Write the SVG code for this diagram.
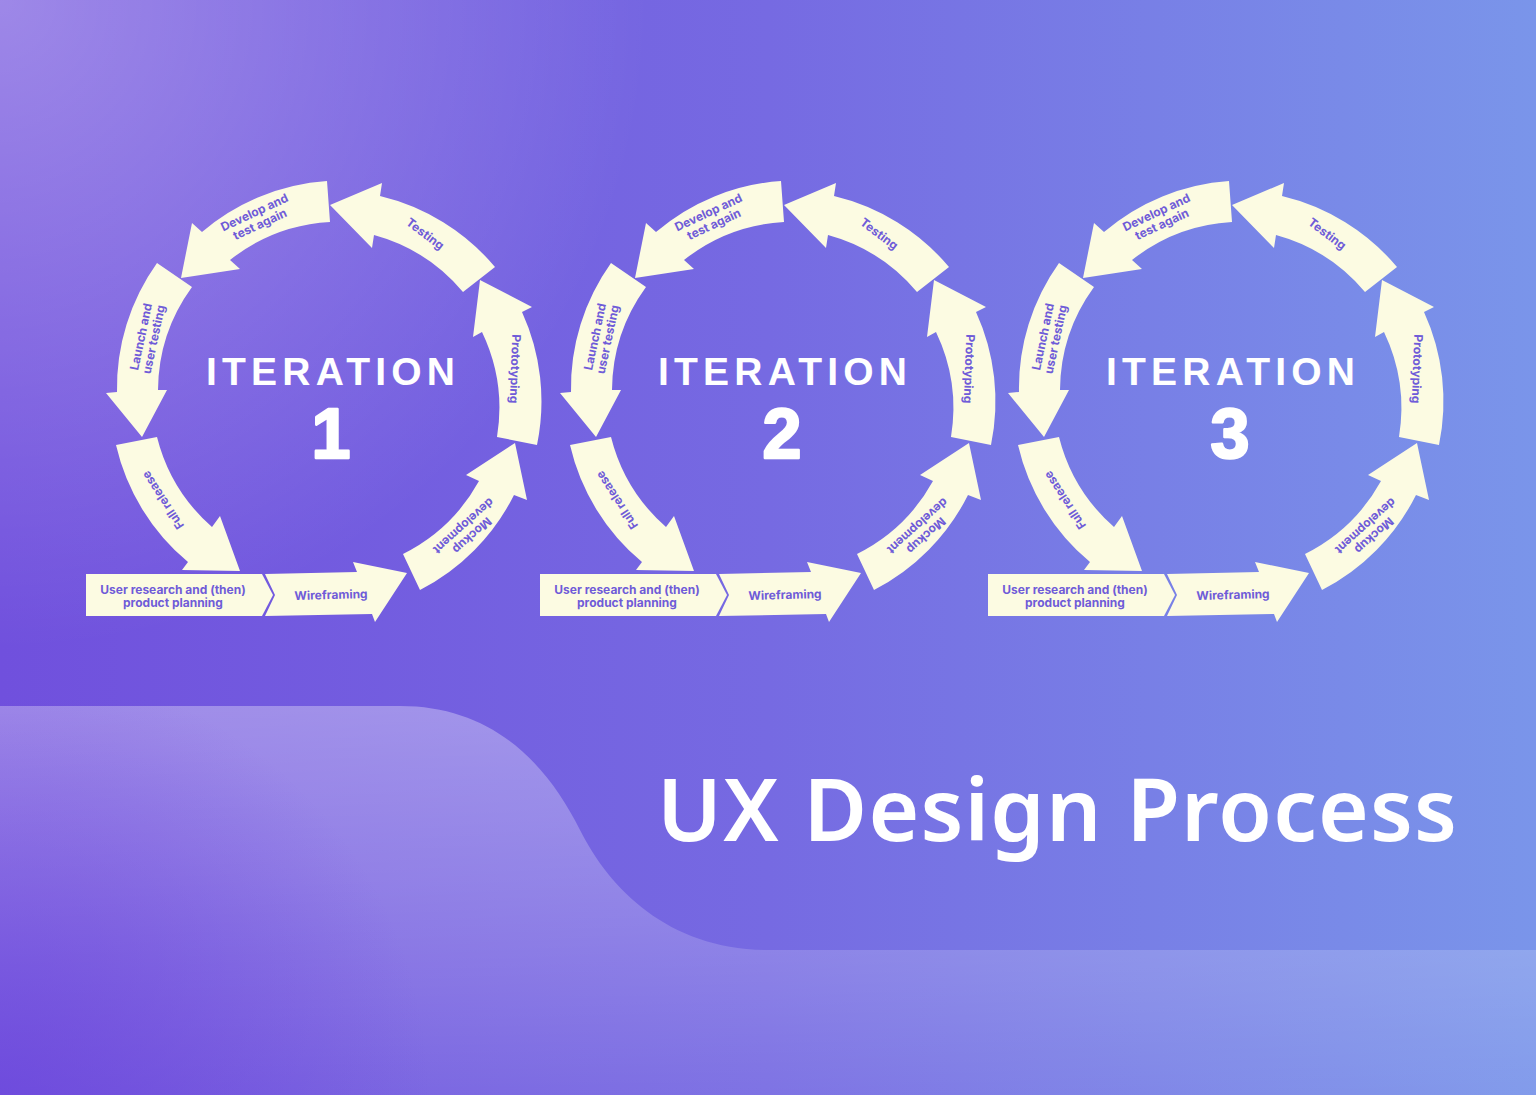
<svg xmlns="http://www.w3.org/2000/svg" xmlns:xlink="http://www.w3.org/1999/xlink" width="1536" height="1095" viewBox="0 0 1536 1095">
<style>
.arw{fill:#fcfbe2}
.lbl{font-family:Inter,"Noto Sans",sans-serif;font-weight:700;font-size:12px;fill:#6f5bd8;text-anchor:middle}
.itr{font-family:"Liberation Sans",Arial,sans-serif;font-weight:700;font-size:39px;fill:#ffffff;text-anchor:middle}
.num{font-family:"Liberation Sans",Arial,sans-serif;font-weight:700;font-size:70px;fill:#ffffff;stroke:#ffffff;stroke-width:2.5;stroke-linejoin:round;text-anchor:middle}
.ttl{font-family:"Noto Sans",Inter,sans-serif;font-weight:600;font-size:87px;fill:#ffffff}
</style>
<defs>
<linearGradient id="bg" x1="0" y1="0" x2="1" y2="0">
<stop offset="0" stop-color="#7050dd"/>
<stop offset="0.5" stop-color="#766ae2"/>
<stop offset="1" stop-color="#7a95ea"/>
</linearGradient>
<radialGradient id="glow" cx="0" cy="0" r="650" gradientUnits="userSpaceOnUse">
<stop offset="0" stop-color="#ffffff" stop-opacity="0.32"/>
<stop offset="1" stop-color="#ffffff" stop-opacity="0"/>
</radialGradient>
<linearGradient id="wave" x1="0" y1="706" x2="0" y2="1095" gradientUnits="userSpaceOnUse">
<stop offset="0" stop-color="#ffffff" stop-opacity="0.33"/>
<stop offset="0.45" stop-color="#ffffff" stop-opacity="0.22"/>
<stop offset="1" stop-color="#ffffff" stop-opacity="0.06"/>
</linearGradient>
<radialGradient id="dark" cx="0" cy="1095" r="430" gradientUnits="userSpaceOnUse">
<stop offset="0" stop-color="#6a45dc" stop-opacity="0.7"/>
<stop offset="1" stop-color="#6a45dc" stop-opacity="0"/>
</radialGradient>
<path id="a-research" d="M86,574 L262,574 L273,595 L262,616 L86,616 Z"/>
<path id="a-wire" d="M265,574 L357,572 L353,562 L407,573 L375,622 L372,614 L265,616 L275,595 Z"/>
<path id="a-mockup" d="M420,590 A215,215 0 0 0 514,495 L527,500 L515,443 L466,475 L479,481 A177,177 0 0 1 403,554 Z"/>
<path id="a-proto" d="M537,445 A215,215 0 0 0 522,312 L532,307 L480,280 L473,337 L482,332 A177,177 0 0 1 497,437 Z"/>
<path id="a-testing" d="M495,267 A215,215 0 0 0 380,196 L382,183 L330,205 L372,248 L374,235 A177,177 0 0 1 463,292 Z"/>
<path id="a-develop" d="M327,181 A215,215 0 0 0 202,232 L192,223 L181,278 L240,269 L230,260 A177,177 0 0 1 330,222 Z"/>
<path id="a-launch" d="M157,263 A215,215 0 0 0 117,392 L106,393 L142,437 L167,390 L158,390 A177,177 0 0 1 192,287 Z"/>
<path id="a-full" d="M116,445 A215,215 0 0 0 188,562 L182,570 L240,571 L220,516 L212,527 A177,177 0 0 1 157,437 Z"/>
</defs>

<g id="background">
<rect x="0" y="0" width="1536" height="1095" fill="url(#bg)"/>
<rect x="0" y="0" width="1536" height="1095" fill="url(#glow)"/>
<path d="M0,706 H400 C490,706 545,760 580,830 C610,890 670,950 768,950 H1536 V1095 H0 Z" fill="url(#wave)"/>
<rect x="0" y="700" width="700" height="395" fill="url(#dark)"/>
</g>

<g id="connectors"></g>

<g id="iteration1">
<g id="it1-research"><use xlink:href="#a-research" class="arw"/><text class="lbl" x="173" y="594">User research and (then)</text><text class="lbl" x="173" y="607">product planning</text></g>
<g id="it1-wireframing"><use xlink:href="#a-wire" class="arw"/><text class="lbl" transform="translate(331,595) rotate(-1.5)" y="4">Wireframing</text></g>
<g id="it1-mockup"><use xlink:href="#a-mockup" class="arw"/><g transform="translate(468,531) rotate(138)"><text class="lbl" y="-2">Mockup</text><text class="lbl" y="11">development</text></g></g>
<g id="it1-prototyping"><use xlink:href="#a-proto" class="arw"/><text class="lbl" transform="translate(515,369) rotate(92)" y="4">Prototyping</text></g>
<g id="it1-testing"><use xlink:href="#a-testing" class="arw"/><text class="lbl" transform="translate(425,234) rotate(37)" y="4">Testing</text></g>
<g id="it1-develop"><use xlink:href="#a-develop" class="arw"/><g transform="translate(257,218) rotate(-25)"><text class="lbl" y="-2">Develop and</text><text class="lbl" y="11">test again</text></g></g>
<g id="it1-launch"><use xlink:href="#a-launch" class="arw"/><g transform="translate(147,338) rotate(-78)"><text class="lbl" y="-2">Launch and</text><text class="lbl" y="11">user testing</text></g></g>
<g id="it1-full"><use xlink:href="#a-full" class="arw"/><text class="lbl" transform="translate(163,500) rotate(-123)" y="4">Full release</text></g>
<g id="it1-title"><text class="itr" x="330.5" y="385" textLength="249">ITERATION</text><text class="num" x="331" y="458">1</text></g>
</g>

<g id="iteration2" transform="translate(454,0)">
<g id="it2-research"><use xlink:href="#a-research" class="arw"/><text class="lbl" x="173" y="594">User research and (then)</text><text class="lbl" x="173" y="607">product planning</text></g>
<g id="it2-wireframing"><use xlink:href="#a-wire" class="arw"/><text class="lbl" transform="translate(331,595) rotate(-1.5)" y="4">Wireframing</text></g>
<g id="it2-mockup"><use xlink:href="#a-mockup" class="arw"/><g transform="translate(468,531) rotate(138)"><text class="lbl" y="-2">Mockup</text><text class="lbl" y="11">development</text></g></g>
<g id="it2-prototyping"><use xlink:href="#a-proto" class="arw"/><text class="lbl" transform="translate(515,369) rotate(92)" y="4">Prototyping</text></g>
<g id="it2-testing"><use xlink:href="#a-testing" class="arw"/><text class="lbl" transform="translate(425,234) rotate(37)" y="4">Testing</text></g>
<g id="it2-develop"><use xlink:href="#a-develop" class="arw"/><g transform="translate(257,218) rotate(-25)"><text class="lbl" y="-2">Develop and</text><text class="lbl" y="11">test again</text></g></g>
<g id="it2-launch"><use xlink:href="#a-launch" class="arw"/><g transform="translate(147,338) rotate(-78)"><text class="lbl" y="-2">Launch and</text><text class="lbl" y="11">user testing</text></g></g>
<g id="it2-full"><use xlink:href="#a-full" class="arw"/><text class="lbl" transform="translate(163,500) rotate(-123)" y="4">Full release</text></g>
<g id="it2-title"><text class="itr" x="328.5" y="385" textLength="249">ITERATION</text><text class="num" x="328" y="458">2</text></g>
</g>

<g id="iteration3" transform="translate(902,0)">
<g id="it3-research"><use xlink:href="#a-research" class="arw"/><text class="lbl" x="173" y="594">User research and (then)</text><text class="lbl" x="173" y="607">product planning</text></g>
<g id="it3-wireframing"><use xlink:href="#a-wire" class="arw"/><text class="lbl" transform="translate(331,595) rotate(-1.5)" y="4">Wireframing</text></g>
<g id="it3-mockup"><use xlink:href="#a-mockup" class="arw"/><g transform="translate(468,531) rotate(138)"><text class="lbl" y="-2">Mockup</text><text class="lbl" y="11">development</text></g></g>
<g id="it3-prototyping"><use xlink:href="#a-proto" class="arw"/><text class="lbl" transform="translate(515,369) rotate(92)" y="4">Prototyping</text></g>
<g id="it3-testing"><use xlink:href="#a-testing" class="arw"/><text class="lbl" transform="translate(425,234) rotate(37)" y="4">Testing</text></g>
<g id="it3-develop"><use xlink:href="#a-develop" class="arw"/><g transform="translate(257,218) rotate(-25)"><text class="lbl" y="-2">Develop and</text><text class="lbl" y="11">test again</text></g></g>
<g id="it3-launch"><use xlink:href="#a-launch" class="arw"/><g transform="translate(147,338) rotate(-78)"><text class="lbl" y="-2">Launch and</text><text class="lbl" y="11">user testing</text></g></g>
<g id="it3-full"><use xlink:href="#a-full" class="arw"/><text class="lbl" transform="translate(163,500) rotate(-123)" y="4">Full release</text></g>
<g id="it3-title"><text class="itr" x="328.5" y="385" textLength="249">ITERATION</text><text class="num" x="328" y="458">3</text></g>
</g>

<g id="title"><text class="ttl" x="657" y="841" textLength="800">UX Design Process</text></g>
</svg>
